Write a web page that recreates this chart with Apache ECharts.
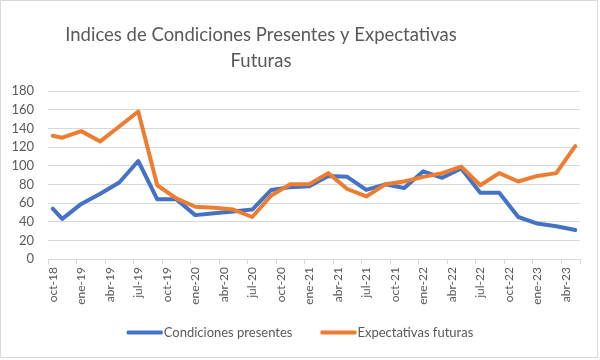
<!DOCTYPE html>
<html>
<head>
<meta charset="utf-8">
<script src="https://cdn.jsdelivr.net/npm/echarts@6/dist/echarts.min.js"></script>
<style>
  html, body { margin: 0; padding: 0; background: #fff; }
  #chart { width: 600px; height: 360px; }
</style>
</head>
<body>
<div id="chart"></div>
<script>
// Full monthly category axis (oct-18 .. may-23)
const categories = [
  'oct-18','nov-18','dic-18',
  'ene-19','feb-19','mar-19','abr-19','may-19','jun-19','jul-19','ago-19','sep-19','oct-19','nov-19','dic-19',
  'ene-20','feb-20','mar-20','abr-20','may-20','jun-20','jul-20','ago-20','sep-20','oct-20','nov-20','dic-20',
  'ene-21','feb-21','mar-21','abr-21','may-21','jun-21','jul-21','ago-21','sep-21','oct-21','nov-21','dic-21',
  'ene-22','feb-22','mar-22','abr-22','may-22','jun-22','jul-22','ago-22','sep-22','oct-22','nov-22','dic-22',
  'ene-23','feb-23','mar-23','abr-23','may-23'
];
// Months with observations
const obsMonths = [
  'oct-18','nov-18','ene-19','mar-19','may-19','jul-19','sep-19','nov-19',
  'ene-20','mar-20','may-20','jul-20','sep-20','nov-20',
  'ene-21','mar-21','may-21','jul-21','sep-21','nov-21',
  'ene-22','mar-22','may-22','jul-22','sep-22','nov-22',
  'ene-23','mar-23','may-23'
];
const condicionesPresentes = [
  54, 43, 59, 70, 82, 105, 64, 64,
  47, 49, 51, 53, 74, 77,
  78, 89, 88, 74, 80, 76,
  94, 87, 97, 71, 71, 45,
  38, 35, 31
];
const expectativasFuturas = [
  132, 130, 137, 126, 142, 158, 79, 65,
  56, 55, 53, 45, 68, 80,
  80, 92, 75, 67, 80, 83,
  88, 92, 99, 79, 92, 83,
  89, 92, 121
];
const seriesNames = ['Condiciones presentes', 'Expectativas futuras'];
const titleText = 'Indices de Condiciones Presentes y Expectativas\nFuturas';

function toFull(values) {
  const out = categories.map(() => null);
  obsMonths.forEach((m, i) => { out[categories.indexOf(m)] = values[i]; });
  return out;
}

const FONT = 'Lato';
const chart = echarts.init(document.getElementById('chart'), null, { renderer: 'canvas' });
chart.setOption({
  backgroundColor: '#ffffff',
  animation: false,
  textStyle: { fontFamily: FONT },
  graphic: [{
    type: 'rect', silent: true, z: -1,
    shape: { x: 0.5, y: 0.5, width: 597, height: 357 },
    style: { fill: '#ffffff', stroke: '#d9d9d9', lineWidth: 1 }
  }],
  title: {
    text: titleText,
    left: 256, top: 17, textAlign: 'center',
    textStyle: { fontFamily: FONT, fontSize: 18.5, fontWeight: 'normal', color: '#595959', lineHeight: 26 }
  },
  legend: {
    bottom: 16, left: 'center',
    icon: 'roundRect', itemWidth: 36, itemHeight: 4, itemGap: 28,
    textStyle: { fontFamily: FONT, fontSize: 13, color: '#595959', padding: [0, 0, 0, -4] },
    data: seriesNames
  },
  grid: { left: 48, right: 20, top: 91, bottom: 101, containLabel: false },
  xAxis: {
    type: 'category',
    data: categories,
    boundaryGap: true,
    axisLine: { lineStyle: { color: '#d9d9d9', width: 1 } },
    axisTick: { show: true, interval: 2, length: 5, lineStyle: { color: '#d9d9d9' } },
    axisLabel: { interval: 2, rotate: 90, margin: 8, fontFamily: FONT, fontSize: 12, color: '#595959' },
    splitLine: { show: false }
  },
  yAxis: {
    type: 'value',
    min: 0, max: 180, interval: 20,
    axisLine: { show: false },
    axisTick: { show: false },
    axisLabel: { margin: 14, fontFamily: FONT, fontSize: 13, color: '#595959' },
    splitLine: { lineStyle: { color: '#d9d9d9', width: 1 } }
  },
  series: [
    {
      name: seriesNames[0], type: 'line', data: toFull(condicionesPresentes),
      connectNulls: true, symbol: 'none', showSymbol: false,
      lineStyle: { color: '#4472C4', width: 4, cap: 'round', join: 'round' },
      itemStyle: { color: '#4472C4' }
    },
    {
      name: seriesNames[1], type: 'line', data: toFull(expectativasFuturas),
      connectNulls: true, symbol: 'none', showSymbol: false,
      lineStyle: { color: '#ED7D31', width: 4, cap: 'round', join: 'round' },
      itemStyle: { color: '#ED7D31' }
    }
  ]
});
</script>
</body>
</html>
